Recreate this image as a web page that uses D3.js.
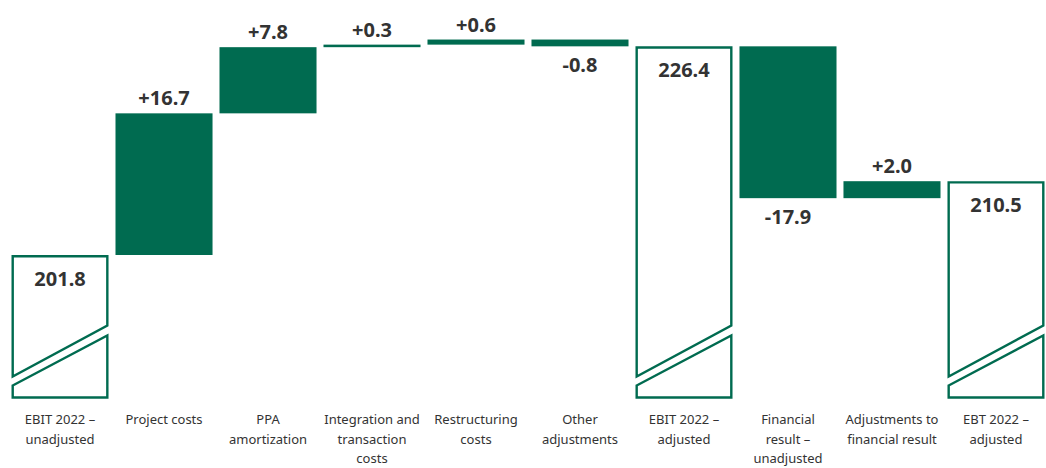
<!DOCTYPE html>
<html>
<head>
<meta charset="utf-8">
<script src="https://cdn.jsdelivr.net/npm/d3@7"></script>
<style>
  body { margin: 0; background: #fff; }
  text { font-family: "Noto Sans", "Open Sans", sans-serif; }
</style>
</head>
<body>
<div id="chart"></div>
<script>
const categories = [
    "EBIT 2022 – unadjusted", "Project costs", "PPA amortization",
    "Integration and transaction costs", "Restructuring costs", "Other adjustments",
    "EBIT 2022 – adjusted", "Financial result – unadjusted",
    "Adjustments to financial result", "EBT 2022 – adjusted"
];
const labelLines = [
    ["EBIT 2022 –", "unadjusted"],
    ["Project costs"],
    ["PPA", "amortization"],
    ["Integration and", "transaction", "costs"],
    ["Restructuring", "costs"],
    ["Other", "adjustments"],
    ["EBIT 2022 –", "adjusted"],
    ["Financial", "result –", "unadjusted"],
    ["Adjustments to", "financial result"],
    ["EBT 2022 –", "adjusted"]
];
const values = [201.8, 16.7, 7.8, 0.3, 0.6, -0.8, 226.4, -17.9, 2.0, 210.5];
const kinds = ["total", "delta", "delta", "delta", "delta", "delta", "total", "delta", "delta", "total"];

const width = 1046;
const height = 468;
const green = "#006b50";
const textColor = "#333";
const baseline = 397.5;

// running totals for the waterfall
let running = 0;
const bars = values.map((v, i) => {
    const kind = kinds[i];
    let start, end;
    if (kind === "total") {
        start = null;
        end = v;
        running = v;
    } else {
        start = running;
        end = running + v;
        running = end;
    }
    return { cat: categories[i], lines: labelLines[i], value: v, kind, start, end };
});

const svg = d3.select("#chart")
    .append("svg")
    .attr("width", width)
    .attr("height", height);

const x = d3.scaleBand()
    .domain(categories)
    .range([11.5, 1044.5])
    .paddingInner(0.067)
    .paddingOuter(0);

// axis is broken: bottom of the plot does not start at zero
const y = d3.scaleLinear()
    .domain([185, 227.5])
    .range([baseline, 37]);

const fmt = d3.format(".1f");

// floating delta bars
svg.selectAll(".delta")
    .data(bars.filter(d => d.kind === "delta"))
    .join("rect")
    .attr("class", "delta")
    .attr("x", d => x(d.cat))
    .attr("width", x.bandwidth())
    .attr("y", d => y(Math.max(d.start, d.end)))
    .attr("height", d => Math.abs(y(d.start) - y(d.end)))
    .attr("fill", green);

// hollow total bars with break mark
const sw = 2.4;
const totals = svg.selectAll(".total")
    .data(bars.filter(d => d.kind === "total"))
    .join("g")
    .attr("class", "total");

totals.append("path")
    .attr("d", d => {
        const x0 = x(d.cat) + sw / 2, x1 = x(d.cat) + x.bandwidth() - sw / 2;
        const top = y(d.end) + sw / 2;
        return `M${x0},${top}H${x1}V${baseline - 72}L${x0},${baseline - 21}Z`;
    })
    .attr("fill", "none")
    .attr("stroke", green)
    .attr("stroke-width", sw);

totals.append("path")
    .attr("d", d => {
        const x0 = x(d.cat) + sw / 2, x1 = x(d.cat) + x.bandwidth() - sw / 2;
        return `M${x0},${baseline - 12}L${x1},${baseline - 62}V${baseline}H${x0}Z`;
    })
    .attr("fill", "none")
    .attr("stroke", green)
    .attr("stroke-width", sw);

// value labels
svg.selectAll(".value")
    .data(bars)
    .join("text")
    .attr("class", "value")
    .attr("x", d => x(d.cat) + x.bandwidth() / 2)
    .attr("y", d => {
        if (d.kind === "total") return y(d.end) + 31;
        if (d.value >= 0) return y(d.end) - 8;
        return y(d.end) + 26;
    })
    .attr("text-anchor", "middle")
    .attr("font-size", "20px")
    .attr("font-weight", "bold")
    .attr("fill", textColor)
    .text(d => d.kind === "total" ? fmt(d.value) : (d.value >= 0 ? "+" : "-") + fmt(Math.abs(d.value)));

// category labels
svg.selectAll(".cat")
    .data(bars)
    .join("text")
    .attr("class", "cat")
    .attr("x", d => x(d.cat) + x.bandwidth() / 2)
    .attr("y", 424)
    .attr("text-anchor", "middle")
    .attr("font-size", "13px")
    .attr("fill", textColor)
    .selectAll("tspan")
    .data(d => d.lines.map(l => ({ l, cx: x(d.cat) + x.bandwidth() / 2 })))
    .join("tspan")
    .attr("x", t => t.cx)
    .attr("dy", (t, i) => i === 0 ? 0 : 19.5)
    .text(t => t.l);
</script>
</body>
</html>
